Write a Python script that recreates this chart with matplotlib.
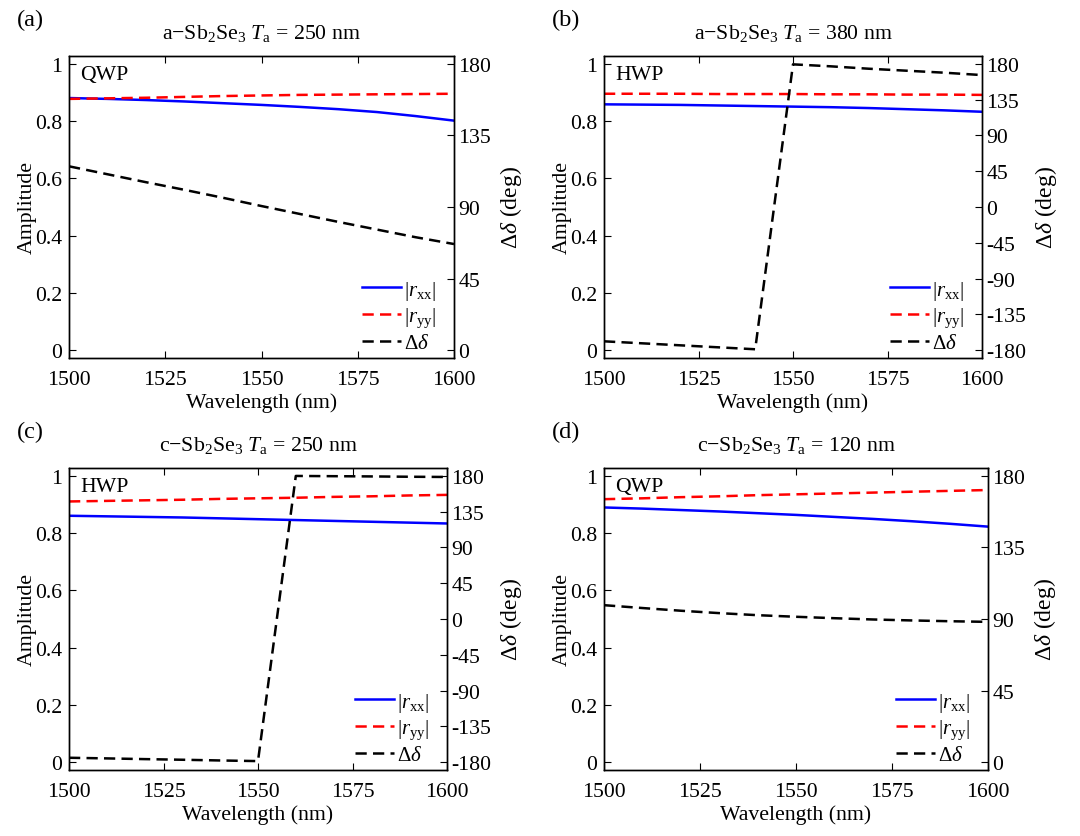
import matplotlib
matplotlib.use("Agg")
import matplotlib.pyplot as plt

plt.rcParams['font.family'] = ['Liberation Serif', 'DejaVu Serif']
plt.rcParams['mathtext.fontset'] = 'custom'
plt.rcParams['mathtext.rm'] = 'Liberation Serif'
plt.rcParams['mathtext.it'] = 'Liberation Serif:italic'
plt.rcParams['mathtext.bf'] = 'Liberation Serif:bold'
plt.rcParams['axes.unicode_minus'] = False

wl = [1500, 1510, 1520, 1530, 1540, 1550, 1560, 1570, 1580, 1590, 1600]

rxx_a = [0.881, 0.878, 0.874, 0.869, 0.863, 0.857, 0.850, 0.842, 0.832, 0.818, 0.802]
ryy_a = [0.878, 0.880, 0.882, 0.885, 0.888, 0.890, 0.892, 0.893, 0.894, 0.895, 0.896]
dd_a = [115.6, 110.6, 105.6, 100.8, 95.8, 90.6, 85.6, 80.6, 75.8, 71.0, 66.7]

rxx_b = [0.859, 0.858, 0.857, 0.855, 0.853, 0.851, 0.849, 0.846, 0.842, 0.838, 0.833]
ryy_b = [0.896, 0.896, 0.896, 0.895, 0.895, 0.895, 0.894, 0.894, 0.893, 0.893, 0.892]
dd_b = [-169.0, -171.5, -174.0, -176.5, -179.0, 179.5, 177.0, 174.0, 171.5, 169.0, 166.0]

rxx_c = [0.861, 0.859, 0.857, 0.855, 0.852, 0.849, 0.846, 0.843, 0.840, 0.837, 0.834]
ryy_c = [0.911, 0.913, 0.915, 0.917, 0.920, 0.922, 0.924, 0.927, 0.929, 0.932, 0.934]
dd_c = [-174.6, -175.4, -176.3, -177.1, -178.0, -178.8, 180.0, 179.7, 179.4, 179.0, 178.7]

rxx_d = [0.890, 0.886, 0.881, 0.876, 0.870, 0.864, 0.857, 0.850, 0.842, 0.833, 0.823]
ryy_d = [0.919, 0.922, 0.926, 0.929, 0.933, 0.936, 0.939, 0.942, 0.945, 0.948, 0.951]
dd_d = [98.7, 96.9, 95.2, 93.7, 92.4, 91.4, 90.5, 89.7, 89.1, 88.6, 88.2]

titles = [r'a$-$Sb$_2$Se$_3$ $T_{\rm a}$ = 250 nm',
          r'a$-$Sb$_2$Se$_3$ $T_{\rm a}$ = 380 nm',
          r'c$-$Sb$_2$Se$_3$ $T_{\rm a}$ = 250 nm',
          r'c$-$Sb$_2$Se$_3$ $T_{\rm a}$ = 120 nm']
plate = ['QWP', 'HWP', 'HWP', 'QWP']
letters = ['(a)', '(b)', '(c)', '(d)']
xticks = [1500, 1525, 1550, 1575, 1600]
amp_ticks = [0, 0.2, 0.4, 0.6, 0.8, 1.0]
amp_labels = ['0', '0.2', '0.4', '0.6', '0.8', '1']
deg_ticks_q = [0, 45, 90, 135, 180]
deg_ticks_h = [-180, -135, -90, -45, 0, 45, 90, 135, 180]

data = [(rxx_a, ryy_a, dd_a), (rxx_b, ryy_b, dd_b), (rxx_c, ryy_c, dd_c), (rxx_d, ryy_d, dd_d)]

W, H = 1080, 837
# axes boxes in pixels: left, right, top, bottom
boxes = [(69, 454, 57, 359), (604, 982, 57, 359), (69, 447, 469, 771), (604, 988, 469, 771)]
letter_pos = [(30, 20), (566, 20), (30, 432), (566, 432)]

fig = plt.figure(figsize=(W / 100, H / 100), dpi=100)
FS = 15.7

for i in range(4):
    l, r, t, b = boxes[i]
    ax = fig.add_axes([l / W, 1 - b / H, (r - l) / W, (b - t) / H])
    rxx, ryy, dd = data[i]
    ax.plot(wl, rxx, color='#0000ff', lw=1.8, label=r'$|r_{\rm xx}|$')
    ax.plot(wl, ryy, color='#ff0000', lw=1.8, ls=(0, (4.5, 2.5)), label=r'$|r_{\rm yy}|$')
    ax.set_xlim(1500, 1600)
    ax.set_ylim(-0.028, 1.028)
    ax.set_xticks(xticks)
    ax.set_yticks(amp_ticks)
    ax.set_yticklabels(amp_labels)
    ax.tick_params(direction='in', top=True, right=False, labelsize=FS, length=5)
    ax.tick_params(axis='x', pad=9)
    ax.tick_params(axis='y', pad=5)
    ax.set_xlabel('Wavelength (nm)', fontsize=FS, labelpad=2)
    ax.set_ylabel('Amplitude', fontsize=FS, labelpad=-1.5)
    ax.set_title(titles[i], fontsize=FS, pad=13)
    ax.text(0.03, 0.94, plate[i], transform=ax.transAxes, fontsize=FS, va='center', ha='left')

    ax2 = ax.twinx()
    ax2.plot(wl, dd, color='black', lw=1.8, ls=(0, (4.5, 2.5)), label=r'$\Delta\delta$')
    if plate[i] == 'QWP':
        ax2.set_ylim(-5, 185)
        ax2.set_yticks(deg_ticks_q)
    else:
        ax2.set_ylim(-190, 190)
        ax2.set_yticks(deg_ticks_h)
    ax2.tick_params(direction='in', labelsize=FS, length=5, pad=3)
    ax2.set_ylabel(r'$\Delta\delta$ (deg)', fontsize=17, rotation=90, labelpad=5)
    for s in list(ax.spines.values()) + list(ax2.spines.values()):
        s.set_linewidth(1.0)

    h1, l1 = ax.get_legend_handles_labels()
    h2, l2 = ax2.get_legend_handles_labels()
    ax2.legend(h1 + h2, l1 + l2, loc='lower right', frameon=False, fontsize=15,
               handlelength=1.85, handletextpad=0.15, labelspacing=0.2,
               borderaxespad=0.2, bbox_to_anchor=(0.985, -0.025))

    fig.text(letter_pos[i][0] / W, 1 - letter_pos[i][1] / H, letters[i], fontsize=17.5,
             ha='center', va='center')

fig.savefig('out.png', dpi=100)
